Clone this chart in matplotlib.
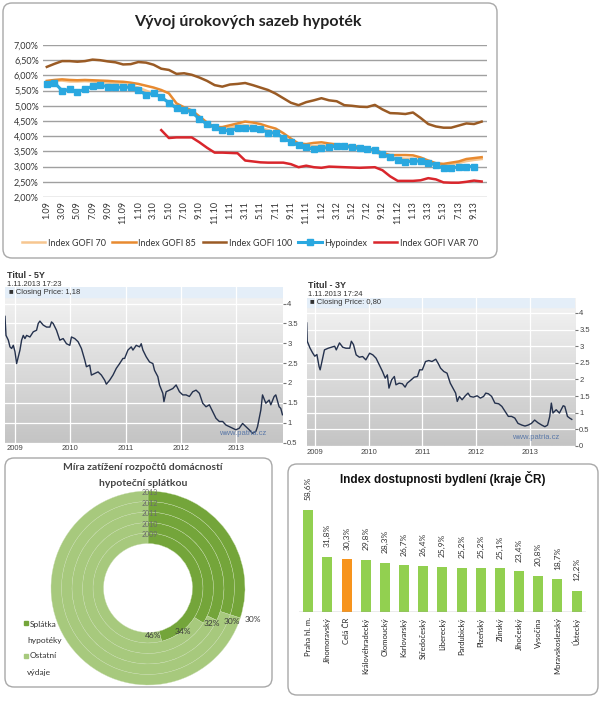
import numpy as np
import matplotlib
matplotlib.use("Agg")
from matplotlib import pyplot as plt
from matplotlib.patches import FancyBboxPatch, Rectangle
from matplotlib.colors import LinearSegmentedColormap

W, H = 610, 713

# top chart - monthly mortgage rates 1.09 .. 10.13
months = [f"{m}.{y:02d}" for y in range(9, 14) for m in range(1, 13)][:58]
gofi70 = [5.80, 5.82, 5.83, 5.80, 5.80, 5.81, 5.80, 5.78, 5.76, 5.72, 5.70, 5.66, 5.60, 5.50, 5.40,
          5.30, 5.12, 4.98, 4.88, 4.76, 4.58, 4.40, 4.28, 4.22, 4.28, 4.34, 4.36, 4.34, 4.28, 4.20,
          4.10, 3.95, 3.80, 3.68, 3.66, 3.68, 3.70, 3.68, 3.66, 3.64, 3.62, 3.58, 3.54, 3.48, 3.38,
          3.30, 3.28, 3.26, 3.26, 3.20, 3.12, 3.05, 3.04, 3.08, 3.12, 3.18, 3.22, 3.25]
gofi85 = [5.82, 5.85, 5.87, 5.85, 5.84, 5.85, 5.84, 5.83, 5.82, 5.80, 5.79, 5.76, 5.72, 5.66, 5.60,
          5.52, 5.41, 5.08, 4.95, 4.85, 4.65, 4.45, 4.30, 4.30, 4.36, 4.42, 4.48, 4.45, 4.40, 4.32,
          4.25, 4.10, 3.92, 3.76, 3.74, 3.78, 3.80, 3.76, 3.73, 3.70, 3.68, 3.65, 3.60, 3.55, 3.45,
          3.38, 3.38, 3.38, 3.37, 3.30, 3.20, 3.11, 3.09, 3.13, 3.17, 3.25, 3.28, 3.31]
gofi100 = [6.28, 6.38, 6.47, 6.47, 6.45, 6.47, 6.52, 6.50, 6.46, 6.43, 6.36, 6.37, 6.44, 6.42, 6.35,
           6.22, 6.18, 6.05, 6.07, 6.02, 5.93, 5.82, 5.68, 5.63, 5.70, 5.72, 5.75, 5.68, 5.60, 5.52,
           5.40, 5.25, 5.10, 5.02, 5.12, 5.18, 5.25, 5.18, 5.15, 5.02, 5.00, 4.97, 4.96, 5.03, 4.88,
           4.76, 4.75, 4.73, 4.78, 4.60, 4.40, 4.32, 4.28, 4.28, 4.35, 4.42, 4.40, 4.48]
hypoindex = [5.72, 5.76, 5.50, 5.54, 5.47, 5.54, 5.65, 5.68, 5.63, 5.61, 5.61, 5.61, 5.52, 5.36, 5.41,
             5.28, 5.10, 4.92, 4.86, 4.81, 4.56, 4.40, 4.29, 4.20, 4.17, 4.26, 4.26, 4.26, 4.23, 4.12,
             4.10, 3.95, 3.80, 3.70, 3.63, 3.57, 3.60, 3.63, 3.68, 3.68, 3.63, 3.60, 3.57, 3.54, 3.41,
             3.30, 3.22, 3.16, 3.18, 3.18, 3.13, 3.05, 2.94, 2.94, 3.00, 3.00, 3.00, np.nan]
gofi_var70 = [np.nan] * 15 + [
              4.20, 3.94, 3.96, 3.96, 3.96, 3.80, 3.62, 3.46, 3.46, 3.45, 3.44, 3.20, 3.17, 3.14, 3.13,
              3.13, 3.13, 3.08, 2.98, 3.03, 2.98, 2.96, 3.00, 2.99, 2.98, 2.97, 2.96, 2.97, 2.98, 2.88,
              2.68, 2.53, 2.53, 2.53, 2.55, 2.62, 2.58, 2.48, 2.47, 2.47, 2.50, 2.54, 2.51]

# patria 5Y chart
t5 = [2008.82, 2008.838, 2008.88, 2008.91, 2008.94, 2008.97, 2009.00, 2009.03, 2009.06, 2009.09,
      2009.12, 2009.15, 2009.18, 2009.21, 2009.27, 2009.33, 2009.39, 2009.42, 2009.45, 2009.51,
      2009.57, 2009.63, 2009.66, 2009.69, 2009.75, 2009.81, 2009.87, 2009.93, 2009.99, 2010.02,
      2010.08, 2010.14, 2010.20, 2010.26, 2010.29, 2010.35, 2010.38, 2010.44, 2010.50, 2010.56,
      2010.62, 2010.65, 2010.71, 2010.77, 2010.83, 2010.89, 2010.95, 2010.98, 2011.04, 2011.10,
      2011.13, 2011.19, 2011.25, 2011.28, 2011.31, 2011.37, 2011.43, 2011.49, 2011.52, 2011.58,
      2011.61, 2011.67, 2011.69, 2011.73, 2011.79, 2011.85, 2011.91, 2011.97, 2012.03, 2012.09,
      2012.15, 2012.21, 2012.27, 2012.33, 2012.39, 2012.45, 2012.51, 2012.57, 2012.63, 2012.69,
      2012.75, 2012.81, 2012.87, 2012.93, 2012.99, 2013.05, 2013.11, 2013.17, 2013.23, 2013.29,
      2013.35, 2013.38, 2013.44, 2013.47, 2013.53, 2013.59, 2013.62, 2013.68, 2013.71, 2013.77,
      2013.80, 2013.83]
y5 = [3.68, 3.20, 3.08, 2.91, 2.87, 2.95, 2.79, 2.49, 2.66, 2.83,
      3.08, 3.20, 3.12, 3.20, 3.16, 3.29, 3.33, 3.50, 3.56, 3.46,
      3.41, 3.41, 3.54, 3.50, 3.33, 3.08, 3.12, 2.99, 2.95, 3.16,
      3.12, 3.04, 2.87, 2.58, 2.41, 2.45, 2.20, 2.24, 2.28, 2.20,
      2.07, 1.97, 2.07, 2.20, 2.37, 2.49, 2.62, 2.62, 2.83, 2.91,
      2.83, 2.95, 2.91, 2.99, 2.83, 2.66, 2.53, 2.49, 2.32, 2.16,
      1.95, 1.74, 1.53, 1.78, 1.82, 1.86, 1.95, 1.78, 1.70, 1.70,
      1.66, 1.78, 1.82, 1.74, 1.49, 1.40, 1.45, 1.28, 1.11, 1.03,
      1.03, 0.94, 0.90, 0.86, 0.82, 0.86, 0.98, 0.90, 0.82, 0.73,
      0.78, 0.90, 1.32, 1.70, 1.49, 1.57, 1.45, 1.66, 1.70, 1.40,
      1.36, 1.20]

# patria 3Y chart
t3 = [2008.85, 2008.86, 2008.91, 2008.96, 2009.00, 2009.04, 2009.08, 2009.10, 2009.14, 2009.18,
      2009.25, 2009.31, 2009.37, 2009.40, 2009.46, 2009.52, 2009.58, 2009.65, 2009.68, 2009.72,
      2009.77, 2009.83, 2009.89, 2009.95, 2010.02, 2010.08, 2010.14, 2010.20, 2010.26, 2010.31,
      2010.35, 2010.38, 2010.43, 2010.48, 2010.51, 2010.57, 2010.63, 2010.68, 2010.72, 2010.78,
      2010.85, 2010.91, 2010.95, 2011.00, 2011.06, 2011.12, 2011.18, 2011.25, 2011.30, 2011.34,
      2011.40, 2011.46, 2011.52, 2011.57, 2011.62, 2011.65, 2011.69, 2011.74, 2011.80, 2011.85,
      2011.89, 2011.95, 2012.02, 2012.08, 2012.14, 2012.18, 2012.23, 2012.29, 2012.35, 2012.42,
      2012.48, 2012.54, 2012.60, 2012.66, 2012.72, 2012.78, 2012.85, 2012.91, 2012.97, 2013.03,
      2013.09, 2013.15, 2013.22, 2013.28, 2013.33, 2013.37, 2013.40, 2013.43, 2013.49, 2013.55,
      2013.62, 2013.65, 2013.70, 2013.74, 2013.78]
y3 = [3.70, 3.15, 2.95, 2.80, 2.70, 2.75, 2.39, 2.29, 2.59, 2.89,
      2.94, 2.97, 3.00, 2.89, 3.10, 2.97, 2.94, 2.94, 3.15, 3.05,
      2.74, 2.67, 2.69, 2.59, 2.79, 2.74, 2.64, 2.44, 2.24, 2.04,
      2.14, 1.74, 1.99, 2.09, 1.84, 1.89, 1.87, 1.77, 1.89, 1.97,
      2.07, 2.09, 2.29, 2.29, 2.54, 2.57, 2.54, 2.61, 2.47, 2.34,
      2.24, 2.19, 1.89, 1.74, 1.59, 1.34, 1.49, 1.39, 1.51, 1.59,
      1.49, 1.47, 1.51, 1.44, 1.49, 1.59, 1.57, 1.49, 1.29, 1.27,
      1.19, 1.04, 0.89, 0.89, 0.84, 0.68, 0.63, 0.60, 0.63, 0.68,
      0.78, 0.70, 0.63, 0.58, 0.63, 0.89, 1.29, 0.99, 1.09, 0.99,
      1.21, 1.19, 0.89, 0.84, 0.80]
years = [2009, 2010, 2011, 2012, 2013]

# doughnut
ring_years = ["2009", "2010", "2011", "2012", "2013"]
splatka = [46, 34, 32, 30, 30]

# bar chart
regions = ["Praha hl. m.", "Jihomoravský", "Celá ČR", "Královéhradecký", "Olomoucký",
           "Karlovarský", "Středočeský", "Liberecký", "Pardubický", "Plzeňský", "Zlínský",
           "Jihočeský", "Vysočina", "Moravskoslezský", "Ústecký"]
index_vals = [58.6, 31.8, 30.3, 29.8, 28.3, 26.7, 26.4, 25.9, 25.2, 25.2, 25.1, 23.4, 20.8, 18.7, 12.2]

CAL = ["Lato", "DejaVu Sans"]
ARI = ["Liberation Sans", "DejaVu Sans"]


def px(l, t, r, b):
    return [l / W, 1 - b / H, (r - l) / W, (b - t) / H]


def ftext(x, y, s, **kw):
    fig.text(x / W, 1 - y / H, s, **kw)


fig = plt.figure(figsize=(W / 100, H / 100), dpi=100)

bg = fig.add_axes([0, 0, 1, 1])
bg.set_xlim(0, W)
bg.set_ylim(H, 0)
bg.axis("off")
for (l, t, r, b) in [(3, 3, 497, 258), (5, 458, 272, 687), (288, 464, 598, 695)]:
    bg.add_patch(FancyBboxPatch((l, t), r - l, b - t, boxstyle="round,pad=0,rounding_size=9",
                                fc="white", ec="#a8a8a8", lw=1))

# ---------- top chart ----------
ax = fig.add_axes(px(43, 45, 487, 197))
ax.patch.set_visible(False)
x = np.arange(len(months))
l1, = ax.plot(x, gofi70, color="#f7c690", lw=1.8, label="Index GOFI 70")
l2, = ax.plot(x, gofi85, color="#e88a30", lw=1.8, label="Index GOFI 85")
l3, = ax.plot(x, gofi100, color="#9a5b25", lw=1.8, label="Index GOFI 100")
l4, = ax.plot(x, hypoindex, color="#2aa8e0", lw=2.2, marker="s", ms=4.5, label="Hypoindex")
l5, = ax.plot(x, gofi_var70, color="#d9262c", lw=1.8, label="Index GOFI VAR 70")
ax.set_xlim(-0.5, 57.7)
ax.set_ylim(2, 7)
ax.set_yticks(np.arange(2, 7.01, 0.5))
ax.set_yticklabels([f"{v:.2f}%".replace(".", ",") for v in np.arange(2, 7.01, 0.5)])
ax.set_xticks(x[::2])
ax.set_xticklabels(months[::2], rotation=90)
ax.tick_params(length=0, labelsize=6.5, labelcolor="#333333", pad=3)
for lab in ax.get_xticklabels() + ax.get_yticklabels():
    lab.set_family(CAL)
ax.yaxis.grid(True, color="#a0a0a0", lw=1)
ax.set_axisbelow(True)
for s in ax.spines.values():
    s.set_visible(False)
ftext(248, 22, "Vývoj úrokových sazeb hypoték", ha="center", va="center",
      fontsize=11.5, fontweight="bold", family=CAL, color="#222222")
fig.legend(handles=[l1, l2, l3, l4, l5], loc="center", bbox_to_anchor=(250 / W, 1 - 243 / H),
           ncol=5, frameon=False, prop={"family": CAL, "size": 6.5}, handlelength=2.6,
           columnspacing=0.7, handletextpad=0.3, labelcolor="#333333")

# ---------- patria charts ----------
grad_cmap = LinearSegmentedColormap.from_list("g", ["#c4c4c4", "#f4f4f4"])


def patria(rect, t, v, ylim, ticks, title, stamp, price, tpos):
    a = fig.add_axes(px(*rect))
    x0, x1 = t[0], 2013.84
    a.imshow(np.linspace(0, 1, 100)[:, None], extent=[x0, x1, ylim[0], ylim[1]], aspect="auto",
             cmap=grad_cmap, origin="lower", zorder=0)
    a.axhspan(4.17, ylim[1], color="#e4eef8", zorder=0.2)
    a.plot(t, v, color="#24314d", lw=1.0, zorder=3)
    a.set_xlim(x0, x1)
    a.set_ylim(*ylim)
    a.set_xticks(years)
    a.set_xticklabels([str(y) for y in years])
    a.set_yticks(ticks)
    a.set_yticklabels([f"{k:g}" for k in ticks])
    a.yaxis.tick_right()
    a.tick_params(axis="y", length=2, color="#777777", labelsize=5.5, pad=1, labelcolor="#444444")
    a.tick_params(axis="x", length=0, labelsize=5.5, pad=2, labelcolor="#444444")
    for lab in a.get_xticklabels() + a.get_yticklabels():
        lab.set_family(ARI)
    a.grid(True, color="white", lw=0.9)
    a.set_axisbelow(True)
    for s in a.spines.values():
        s.set_visible(False)
    a.text(0.94, 0.06, "www.patria.cz", transform=a.transAxes, ha="right", va="center",
           fontsize=5.5, family=ARI, color="#5a78a8", zorder=4)
    tx, ty = tpos
    ftext(tx, ty, title, fontsize=6.5, fontweight="bold", family=ARI, color="#333333", va="center")
    ftext(tx, ty + 9, stamp, fontsize=5.5, family=ARI, color="#333333", va="center")
    ftext(tx + 2, ty + 17, "\u25a0 Closing Price: " + price, fontsize=5.5, family=ARI,
          color="#333333", va="center")


patria((5, 287, 283, 442.5), t5, y5, (0.5, 4.42), np.arange(0.5, 4.01, 0.5),
       "Titul - 5Y", "1.11.2013 17:23", "1,18", (7, 275))
patria((306.7, 298, 575, 446), t3, y3, (0, 4.45), np.arange(0, 4.01, 0.5),
       "Titul - 3Y", "1.11.2013 17:24", "0,80", (308, 286))

# ---------- doughnut ----------
dark, light = "#74a53a", "#a7c97d"
ad = fig.add_axes(px(48, 488, 248, 688))
ad.patch.set_visible(False)
R_in, w = 0.445, 0.105
for k, p in enumerate(splatka):
    ad.pie([p, 100 - p], radius=R_in + (k + 1) * w, startangle=90, counterclock=False,
           colors=[dark, light], wedgeprops=dict(width=w, edgecolor="#c9ddb0", linewidth=0.25))
    ad.text(0.02, R_in + (k + 0.5) * w + 0.035, ring_years[k], ha="center", va="center",
            fontsize=5, family=CAL, color="#6b6b6b")
ad.set_xlim(-1, 1)
ad.set_ylim(-1, 1)
ad.set_aspect("equal")
pct_pos = [(0.05, -0.47), (0.35, -0.44), (0.64, -0.35), (0.84, -0.34), (1.05, -0.32)]
for (lx, ly), p in zip(pct_pos, splatka):
    ad.text(lx, ly, f"{p}%", ha="center", va="center", fontsize=6, family=CAL,
            color="#3a3a3a", clip_on=False)
ftext(143, 468, "Míra zatížení rozpočtů domácností", ha="center", va="center",
      fontsize=7.5, fontweight="bold", family=CAL, color="#444444")
ftext(143, 483, "hypoteční splátkou", ha="center", va="center",
      fontsize=7.5, fontweight="bold", family=CAL, color="#444444")
bg.add_patch(Rectangle((24, 621), 4, 4, color=dark))
bg.add_patch(Rectangle((24, 654), 4, 4, color=light))
ftext(30, 624, "Splátka", fontsize=6, family=CAL, color="#333333", va="center")
ftext(27, 640, "hypotéky", fontsize=6, family=CAL, color="#333333", va="center")
ftext(30, 656, "Ostatní", fontsize=6, family=CAL, color="#333333", va="center")
ftext(27, 672, "výdaje", fontsize=6, family=CAL, color="#333333", va="center")

# ---------- bar chart ----------
ab = fig.add_axes(px(298.7, 490, 586.2, 612))
ab.patch.set_visible(False)
xb = np.arange(len(regions))
colors = ["#f7941d" if r == "Celá ČR" else "#92d050" for r in regions]
ab.bar(xb, index_vals, width=0.52, color=colors)
for i, v in enumerate(index_vals):
    ab.text(i, v + 5.5, f"{v:.1f}%".replace(".", ","), rotation=90, ha="center", va="bottom",
            fontsize=6, family=CAL, color="#333333")
ab.axhline(0, color="#9a9a9a", lw=1)
ab.set_xlim(-0.5, len(regions) - 0.5)
ab.set_ylim(0, 70)
ab.set_yticks([])
ab.set_xticks(xb)
ab.set_xticklabels(regions, rotation=90)
ab.tick_params(length=0, labelsize=5.5, pad=4, labelcolor="#222222")
for lab in ab.get_xticklabels():
    lab.set_family(CAL)
for s in ab.spines.values():
    s.set_visible(False)
ftext(443, 478, "Index dostupnosti bydlení (kraje ČR)", ha="center", va="center",
      fontsize=8.5, fontweight="bold", family=ARI, color="#111111")

fig.savefig("out.png", dpi=100)
